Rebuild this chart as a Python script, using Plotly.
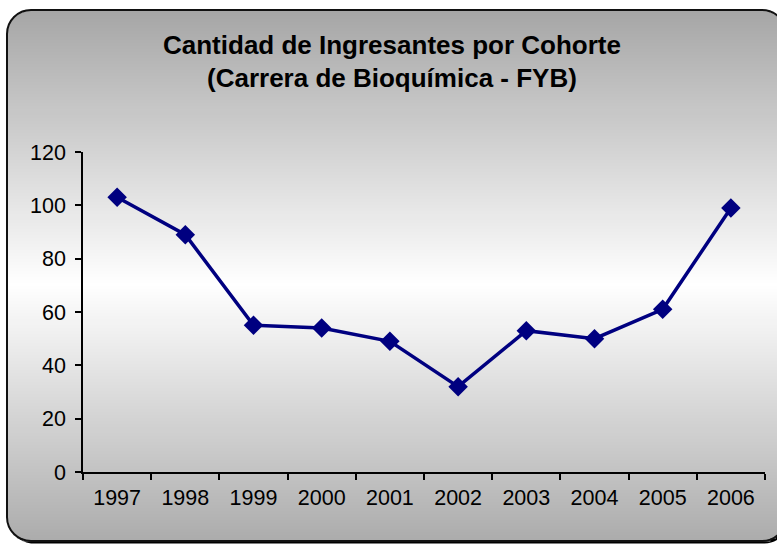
import math
import plotly.graph_objects as go

# ---- data ----
years = ["1997", "1998", "1999", "2000", "2001", "2002", "2003", "2004", "2005", "2006"]
ingresantes = [103, 89, 55, 54, 49, 32, 53, 50, 61, 99]
y_ticks = [0, 20, 40, 60, 80, 100, 120]
title_lines = ["Cantidad de Ingresantes por Cohorte", "(Carrera de Bioquímica - FYB)"]

# ---- layout geometry (pixels) ----
W, H = 777, 544
ML, MR, MT, MB = 83, 12, 152, 72
PW, PH = W - ML - MR, H - MT - MB


def px(x, y):
    return ((x - ML) / PW, (H - MB - y) / PH)


def rounded_path(x0, y0, x1, y1, r):
    k = 0.5523 * r

    def P(x, y):
        a, b = px(x, y)
        return f"{a:.5f},{b:.5f}"
    d = f"M{P(x0 + r, y0)} L{P(x1 - r, y0)} "
    d += f"C{P(x1 - r + k, y0)} {P(x1, y0 + r - k)} {P(x1, y0 + r)} "
    d += f"L{P(x1, y1 - r)} "
    d += f"C{P(x1, y1 - r + k)} {P(x1 - r + k, y1)} {P(x1 - r, y1)} "
    d += f"L{P(x0 + r, y1)} "
    d += f"C{P(x0 + r - k, y1)} {P(x0, y1 - r + k)} {P(x0, y1 - r)} "
    d += f"L{P(x0, y0 + r)} "
    d += f"C{P(x0, y0 + r - k)} {P(x0 + r - k, y0)} {P(x0 + r, y0)} Z"
    return d


RX0, RY0, RX1, RY1, RR = 7, 10, 786, 541, 24

shapes = []
# shadow
shapes.append(dict(type="path", xref="paper", yref="paper", layer="below",
                   path=rounded_path(RX0 + 2.5, RY0 + 2.5, RX1 + 2.5, RY1 + 2.5, RR),
                   fillcolor="#000000", line=dict(width=0)))


def grad(y):
    top, mid, bot = 166, 255, 172
    ymid = 285
    if y <= ymid:
        t = (y - RY0) / (ymid - RY0)
        v = top + (mid - top) * t
    else:
        t = (y - ymid) / (RY1 - ymid)
        v = mid + (bot - mid) * t
    v = int(round(max(0, min(255, v))))
    return f"rgb({v},{v},{v})"


step = 3
y = RY0
while y < RY1:
    ya, yb = y, min(y + step, RY1)
    ym = (ya + yb) / 2
    dy = min(ym - RY0, RY1 - ym)
    inset = 0
    if dy < RR:
        inset = RR - math.sqrt(max(0, RR ** 2 - (RR - dy) ** 2))
    xa, yA = px(RX0 + inset, ya)
    xb, yB = px(RX1 - inset, yb + 0.6)
    shapes.append(dict(type="rect", xref="paper", yref="paper", layer="below",
                       x0=xa, x1=xb, y0=yB, y1=yA,
                       fillcolor=grad(ym), line=dict(width=0)))
    y = yb

# border
shapes.append(dict(type="path", xref="paper", yref="paper", layer="below",
                   path=rounded_path(RX0, RY0, RX1, RY1, RR),
                   fillcolor="rgba(0,0,0,0)", line=dict(color="#111111", width=2)))

fig = go.Figure()
fig.add_trace(go.Scatter(
    x=years, y=ingresantes, mode="lines+markers",
    line=dict(color="#000080", width=3.5),
    marker=dict(symbol="diamond", size=15, color="#000080"),
    showlegend=False, hoverinfo="x+y"))

annotations = []
for txt, yc in zip(title_lines, [45, 78]):
    ax, ay = px(392, yc)
    annotations.append(dict(text=f"<b>{txt}</b>", xref="paper", yref="paper",
                            x=ax, y=ay, xanchor="center", yanchor="middle",
                            showarrow=False,
                            font=dict(family="Liberation Sans, Arial", size=26, color="#000000")))

fig.update_layout(
    width=W, height=H,
    margin=dict(l=ML, r=MR, t=MT, b=MB),
    paper_bgcolor="#ffffff", plot_bgcolor="rgba(0,0,0,0)",
    font=dict(family="Liberation Sans, Arial", size=21.5, color="#000000"),
    shapes=shapes, annotations=annotations,
    xaxis=dict(type="category", range=[-0.5, 9.5], tickson="boundaries",
               ticks="outside", ticklen=6, tickwidth=1.5, tickcolor="#000000",
               showline=True, linecolor="#000000", linewidth=1.5,
               showgrid=False, zeroline=False, fixedrange=True,
               ticklabelstandoff=5),
    yaxis=dict(range=[0, 120], tickvals=y_ticks,
               ticks="outside", ticklen=6, tickwidth=1.5, tickcolor="#000000",
               showline=True, linecolor="#000000", linewidth=1.5,
               showgrid=False, zeroline=False, fixedrange=True,
               ticklabelstandoff=5),
)

fig.write_html("out.html", config={"displayModeBar": False},
               post_script="document.body.style.margin='0';document.body.style.overflow='hidden';")
